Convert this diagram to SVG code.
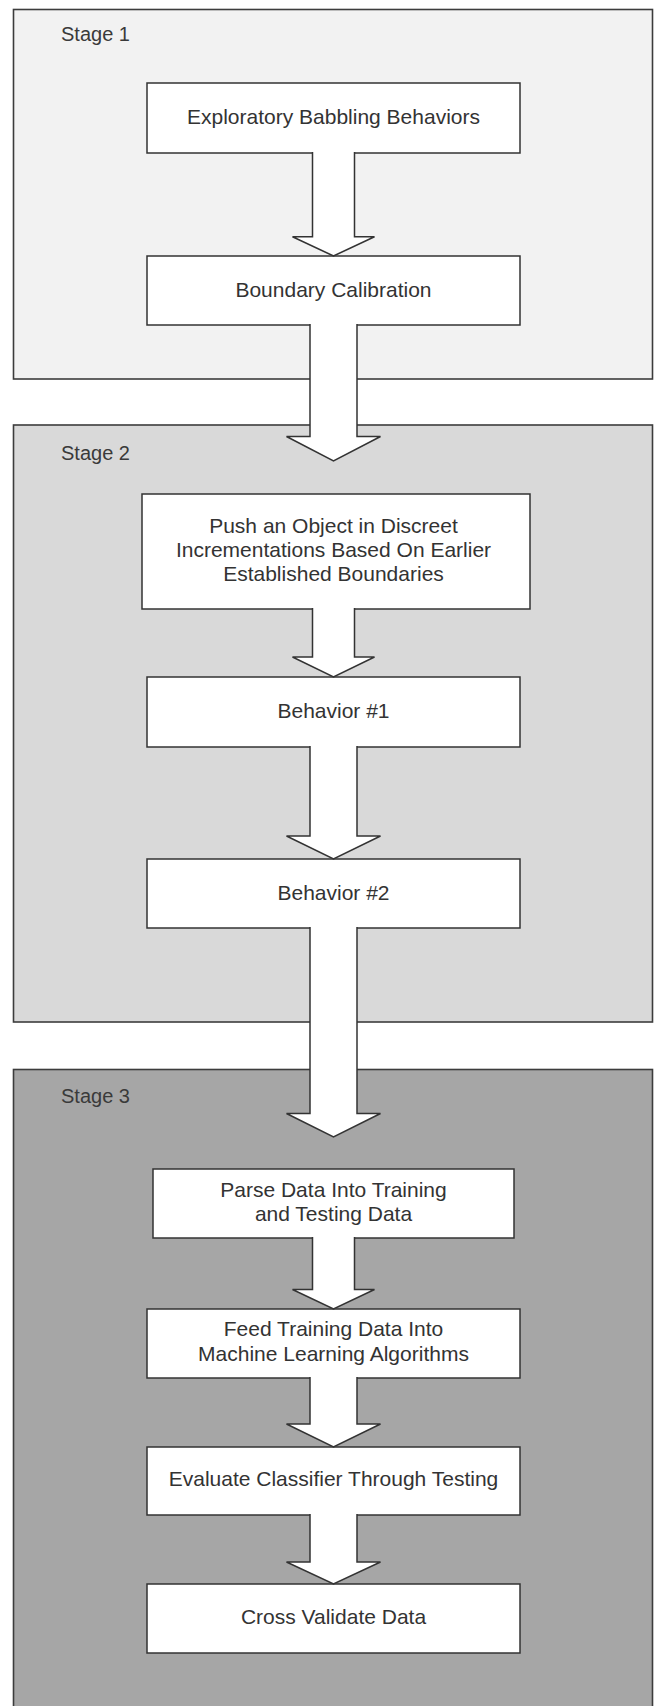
<svg xmlns="http://www.w3.org/2000/svg" width="660" height="1706" viewBox="0 0 660 1706">
<style>
.stage{stroke:#3c3c3c;stroke-width:1.6}
.box{fill:#ffffff;stroke:#333333;stroke-width:1.5}
.lbl{font-family:"Liberation Sans",Arial,sans-serif;font-size:20px;fill:#3a3a3a}
.txt{font-family:"Liberation Sans",Arial,sans-serif;font-size:21px;fill:#333333;text-anchor:middle}
.arr{fill:#ffffff;stroke:#333333;stroke-width:1.5;stroke-linejoin:miter}
</style>
<rect width="660" height="1706" fill="#ffffff"/>
<g id="stage1">
<rect class="stage" x="13.5" y="9.5" width="639" height="369.5" fill="#f2f2f2"/>
<text class="lbl" x="61" y="40.5">Stage 1</text>
</g>
<g id="stage2">
<rect class="stage" x="13.5" y="425" width="639" height="597" fill="#d9d9d9"/>
<text class="lbl" x="61" y="460">Stage 2</text>
</g>
<g id="stage3">
<rect class="stage" x="13.5" y="1069.5" width="639" height="700" fill="#a6a6a6"/>
<text class="lbl" x="61" y="1103">Stage 3</text>
</g>
<g id="n1"><rect class="box" x="147" y="83" width="373" height="70"/><text class="txt" x="333.5" y="124">Exploratory Babbling Behaviors</text></g>
<g id="n2"><rect class="box" x="147" y="256" width="373" height="69"/><text class="txt" x="333.5" y="296.5">Boundary Calibration</text></g>
<g id="n3"><rect class="box" x="142" y="494" width="388" height="115"/>
<text class="txt" x="333.5" y="532.5">Push an Object in Discreet</text>
<text class="txt" x="333.5" y="556.5">Incrementations Based On Earlier</text>
<text class="txt" x="333.5" y="580.5">Established Boundaries</text></g>
<g id="n4"><rect class="box" x="147" y="677" width="373" height="70"/><text class="txt" x="333.5" y="718">Behavior #1</text></g>
<g id="n5"><rect class="box" x="147" y="859" width="373" height="69"/><text class="txt" x="333.5" y="899.5">Behavior #2</text></g>
<g id="n6"><rect class="box" x="153" y="1169" width="361" height="69"/>
<text class="txt" x="333.5" y="1196.5">Parse Data Into Training</text>
<text class="txt" x="333.5" y="1220.5">and Testing Data</text></g>
<g id="n7"><rect class="box" x="147" y="1309" width="373" height="69"/>
<text class="txt" x="333.5" y="1336">Feed Training Data Into</text>
<text class="txt" x="333.5" y="1361">Machine Learning Algorithms</text></g>
<g id="n8"><rect class="box" x="147" y="1447" width="373" height="68"/><text class="txt" x="333.5" y="1486">Evaluate Classifier Through Testing</text></g>
<g id="n9"><rect class="box" x="147" y="1584" width="373" height="69"/><text class="txt" x="333.5" y="1624">Cross Validate Data</text></g>
<g id="connectors">
<path class="arr" d="M312.5,152 V236.7 H292.5 L333.5,256 L374.5,236.7 H354.5 V152"/>
<path class="arr" d="M310,324 V436.5 H286.5 L333.5,461 L380.5,436.5 H357 V324"/>
<path class="arr" d="M312.5,608 V657 H292.5 L333.5,677 L374.5,657 H354.5 V608"/>
<path class="arr" d="M310,746 V836 H286.5 L333.5,859 L380.5,836 H357 V746"/>
<path class="arr" d="M310,927 V1113.5 H286.5 L333.5,1137 L380.5,1113.5 H357 V927"/>
<path class="arr" d="M312.5,1237 V1289.5 H292.5 L333.5,1309 L374.5,1289.5 H354.5 V1237"/>
<path class="arr" d="M310,1377 V1424 H286.5 L333.5,1447 L380.5,1424 H357 V1377"/>
<path class="arr" d="M310,1514 V1562 H286.5 L333.5,1584 L380.5,1562 H357 V1514"/>
</g>
</svg>
